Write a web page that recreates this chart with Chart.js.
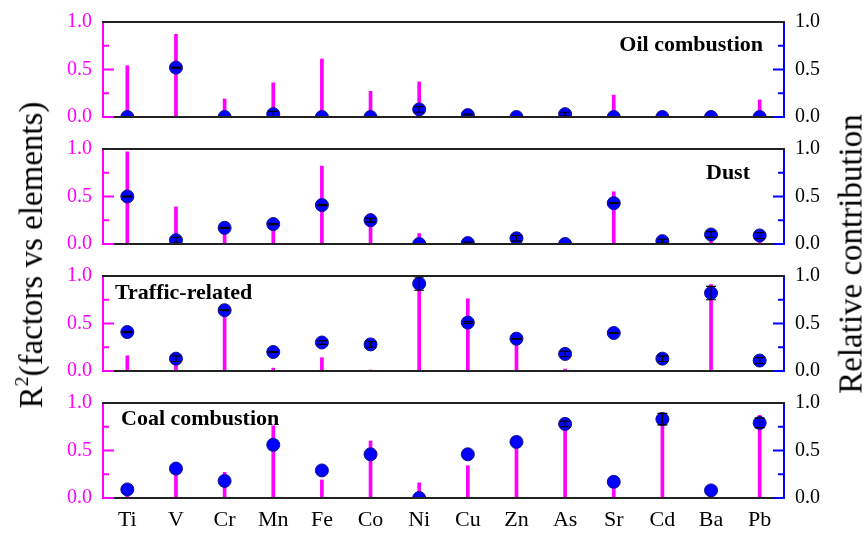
<!DOCTYPE html>
<html><head><meta charset="utf-8">
<script src="https://cdn.jsdelivr.net/npm/chart.js@4.4.1/dist/chart.umd.min.js"></script>
<style>
html,body{margin:0;padding:0;background:#fff;}
#wrap{position:relative;width:864px;height:537px;overflow:hidden;background:#fff;}
.pc{position:absolute;left:0;width:864px;}
.pc canvas{display:block;}
.ytitle{position:absolute;font-family:'Liberation Serif','Times New Roman',serif;font-size:33px;color:#000;white-space:nowrap;transform:translate(-50%,-50%) rotate(-90deg);line-height:1;}
.ytitle sup{font-size:0.6em;vertical-align:0.7em;}
</style></head><body>
<div id="wrap">
  <div class="pc" id="p0"><canvas id="c0"></canvas></div>
  <div class="pc" id="p1"><canvas id="c1"></canvas></div>
  <div class="pc" id="p2"><canvas id="c2"></canvas></div>
  <div class="pc" id="p3"><canvas id="c3"></canvas></div>
  <div class="ytitle" style="left:30px;top:255px">R<sup>2</sup>(factors vs elements)</div>
  <div class="ytitle" style="left:851px;top:254px">Relative contribution</div>
</div>
<script>
// ---------------- DATA ----------------
const categories = ['Ti','V','Cr','Mn','Fe','Co','Ni','Cu','Zn','As','Sr','Cd','Ba','Pb'];
const panelNames = ['Oil combustion','Dust','Traffic-related','Coal combustion'];
const yTickLabels = [0, 0.5, 1.0];
const yMinorTicks = [0.25, 0.75];

const oilR2           = [0.54,0.87,0.19,0.36,0.61,0.27,0.37,0.00,0.00,0.00,0.23,0.00,0.00,0.18];
const oilContribution = [0.00,0.52,0.00,0.03,0.00,0.00,0.08,0.02,0.00,0.03,0.00,0.00,0.00,0.00];
const oilError        = [0,0.005,0,0.03,0,0,0.03,0.01,0,0.02,0,0,0,0];

const dustR2           = [0.97,0.39,0.14,0.18,0.82,0.32,0.11,0.00,0.00,0.00,0.55,0.00,0.06,0.05];
const dustContribution = [0.50,0.04,0.17,0.21,0.41,0.25,0.00,0.01,0.06,0.00,0.43,0.03,0.10,0.09];
const dustError        = [0.005,0.03,0.005,0.005,0.005,0.02,0,0.01,0.03,0,0.005,0.02,0.03,0.03];

const trafficR2           = [0.16,0.10,0.63,0.03,0.14,0.01,0.92,0.76,0.33,0.02,0.00,0.00,0.91,0.00];
const trafficContribution = [0.41,0.13,0.64,0.20,0.30,0.28,0.92,0.51,0.34,0.18,0.40,0.13,0.82,0.11];
const trafficError        = [0.005,0.03,0.005,0.005,0.02,0.03,0.07,0.01,0.005,0.03,0.005,0.03,0.07,0.03];

const coalR2           = [0.02,0.37,0.27,0.76,0.19,0.60,0.16,0.34,0.57,0.76,0.12,0.90,0.02,0.87];
const coalContribution = [0.09,0.31,0.18,0.56,0.29,0.46,0.00,0.46,0.59,0.78,0.17,0.83,0.08,0.79];
const coalError        = [0,0,0,0,0,0,0,0,0,0.03,0,0.06,0,0.05];

// ---------------- STYLE / LAYOUT ----------------
const MAGENTA = '#ff00ff', BLUE = '#0000ff';
const SERIF = "'Liberation Serif','Times New Roman',serif";
const panels = [
  {r2: oilR2, rc: oilContribution, err: oilError, top: 22, label: {align:'right', dx:-21, dy:23}},
  {r2: dustR2, rc: dustContribution, err: dustError, top: 149, label: {align:'right', dx:-34, dy:24}},
  {r2: trafficR2, rc: trafficContribution, err: trafficError, top: 276, label: {align:'left', dx:12, dy:17}},
  {r2: coalR2, rc: coalContribution, err: coalError, top: 403, label: {align:'left', dx:18, dy:16}}
];
const PANEL_H = 95, PAD = 14, LEFT_W = 103, RIGHT_W = 80, XAXIS_H = 39;

function zeroPad(s) { s.paddingTop = 0; s.paddingBottom = 0; s.paddingLeft = 0; s.paddingRight = 0; }

const framePlugin = {
  id: 'frame',
  afterDatasetsDraw(chart, args, opts) {
    const ctx = chart.ctx, a = chart.chartArea;
    const yl = chart.scales.yL, yr = chart.scales.yR;
    ctx.save();
    // error bars
    const errs = opts.err, vals = opts.rc;
    ctx.strokeStyle = '#000'; ctx.lineWidth = 1.2;
    for (let i = 0; i < vals.length; i++) {
      const e = errs[i]; if (!e) continue;
      const x = chart.scales.x.getPixelForValue(i);
      const y1 = yr.getPixelForValue(vals[i] + e), y2 = yr.getPixelForValue(Math.max(0, vals[i] - e));
      ctx.beginPath();
      ctx.moveTo(x, y1); ctx.lineTo(x, y2);
      ctx.moveTo(x - 5, y1); ctx.lineTo(x + 5, y1);
      ctx.moveTo(x - 5, y2); ctx.lineTo(x + 5, y2);
      ctx.stroke();
    }
    // bottom frame line
    ctx.lineWidth = 2; ctx.strokeStyle = '#222';
    ctx.beginPath(); ctx.moveTo(a.left, a.bottom); ctx.lineTo(a.right, a.bottom); ctx.stroke();
    // left axis + inward ticks
    ctx.strokeStyle = MAGENTA;
    ctx.beginPath(); ctx.moveTo(a.left, a.top); ctx.lineTo(a.left, a.bottom + 1); ctx.stroke();
    yTickLabels.forEach(v => { const y = yl.getPixelForValue(v); ctx.beginPath(); ctx.moveTo(a.left, y); ctx.lineTo(a.left + 11, y); ctx.stroke(); });
    yMinorTicks.forEach(v => { const y = yl.getPixelForValue(v); ctx.beginPath(); ctx.moveTo(a.left, y); ctx.lineTo(a.left + 6, y); ctx.stroke(); });
    // right axis + inward ticks
    ctx.strokeStyle = BLUE;
    ctx.beginPath(); ctx.moveTo(a.right, a.top); ctx.lineTo(a.right, a.bottom + 1); ctx.stroke();
    yTickLabels.forEach(v => { const y = yr.getPixelForValue(v); ctx.beginPath(); ctx.moveTo(a.right, y); ctx.lineTo(a.right - 11, y); ctx.stroke(); });
    yMinorTicks.forEach(v => { const y = yr.getPixelForValue(v); ctx.beginPath(); ctx.moveTo(a.right, y); ctx.lineTo(a.right - 6, y); ctx.stroke(); });
    // top frame line
    ctx.strokeStyle = '#222';
    ctx.beginPath(); ctx.moveTo(a.left - 1, a.top); ctx.lineTo(a.right + 1, a.top); ctx.stroke();
    // panel label
    ctx.fillStyle = '#000';
    ctx.font = 'bold 22px ' + SERIF;
    ctx.textBaseline = 'middle';
    ctx.textAlign = opts.label.align;
    const lx = opts.label.align === 'right' ? a.right + opts.label.dx : a.left + opts.label.dx;
    ctx.fillText(opts.text, lx, a.top + opts.label.dy);
    ctx.restore();
  }
};

panels.forEach((p, k) => {
  const last = k === panels.length - 1;
  const canvasTop = p.top - PAD;
  const h = last ? (537 - canvasTop) : (PANEL_H + 2 * PAD);
  const wrap = document.getElementById('p' + k);
  wrap.style.top = canvasTop + 'px'; wrap.style.height = h + 'px';
  const cv = document.getElementById('c' + k);
  cv.width = 864; cv.height = h; cv.style.width = '864px'; cv.style.height = h + 'px';
  const wantTop = PAD, wantBottom = PAD + PANEL_H;
  const chart = new Chart(cv, {
    type: 'bar',
    data: {
      labels: categories,
      datasets: [
        {type: 'bar', data: p.r2, yAxisID: 'yL', backgroundColor: MAGENTA, borderWidth: 0, barThickness: 3, order: 2},
        {type: 'line', data: p.rc, yAxisID: 'yR', showLine: false, pointRadius: 6.5, pointHoverRadius: 6.5,
         pointBackgroundColor: BLUE, pointBorderColor: '#10108a', pointBorderWidth: 1, order: 1,
         clip: {left: false, right: false, top: false, bottom: 0}}
      ]
    },
    options: {
      responsive: false, maintainAspectRatio: false, animation: false, events: [],
      layout: {autoPadding: false, padding: {top: PAD, bottom: last ? 0 : PAD, left: 0, right: 0}},
      plugins: {legend: {display: false}, tooltip: {enabled: false},
        frame: {err: p.err, rc: p.rc, text: panelNames[k], label: p.label}},
      scales: {
        x: {
          display: last, offset: true,
          grid: {display: false, drawTicks: false}, border: {display: false},
          ticks: {color: '#000', font: {family: SERIF, size: 22}, padding: 9, maxRotation: 0, autoSkip: false},
          afterFit: s => { s.height = last ? XAXIS_H : 0; zeroPad(s); }
        },
        yL: {
          position: 'left', min: 0, max: 1,
          grid: {display: false, drawTicks: false}, border: {display: false},
          afterBuildTicks: s => { s.ticks = yTickLabels.map(v => ({value: v})); },
          ticks: {color: MAGENTA, font: {family: SERIF, size: 20}, padding: 11, autoSkip: false, callback: v => Number(v).toFixed(1)},
          afterFit: s => { s.width = LEFT_W; zeroPad(s); }
        },
        yR: {
          position: 'right', min: 0, max: 1,
          grid: {display: false, drawTicks: false}, border: {display: false},
          afterBuildTicks: s => { s.ticks = yTickLabels.map(v => ({value: v})); },
          ticks: {color: '#000', font: {family: SERIF, size: 20}, padding: 11, autoSkip: false, callback: v => Number(v).toFixed(1)},
          afterFit: s => { s.width = RIGHT_W; zeroPad(s); }
        }
      }
    },
    plugins: [framePlugin]
  });
  // correct any remaining automatic layout padding so the plot area lands where wanted
  for (let it = 0; it < 3; it++) {
    const a = chart.chartArea;
    const dTop = a.top - wantTop, dBot = wantBottom - a.bottom;
    if (Math.abs(dTop) < 0.5 && Math.abs(dBot) < 0.5) break;
    const pad = chart.options.layout.padding;
    pad.top = Math.max(0, pad.top - dTop);
    pad.bottom = Math.max(0, pad.bottom - dBot);
    chart.update();
  }
});
</script>
</body></html>
